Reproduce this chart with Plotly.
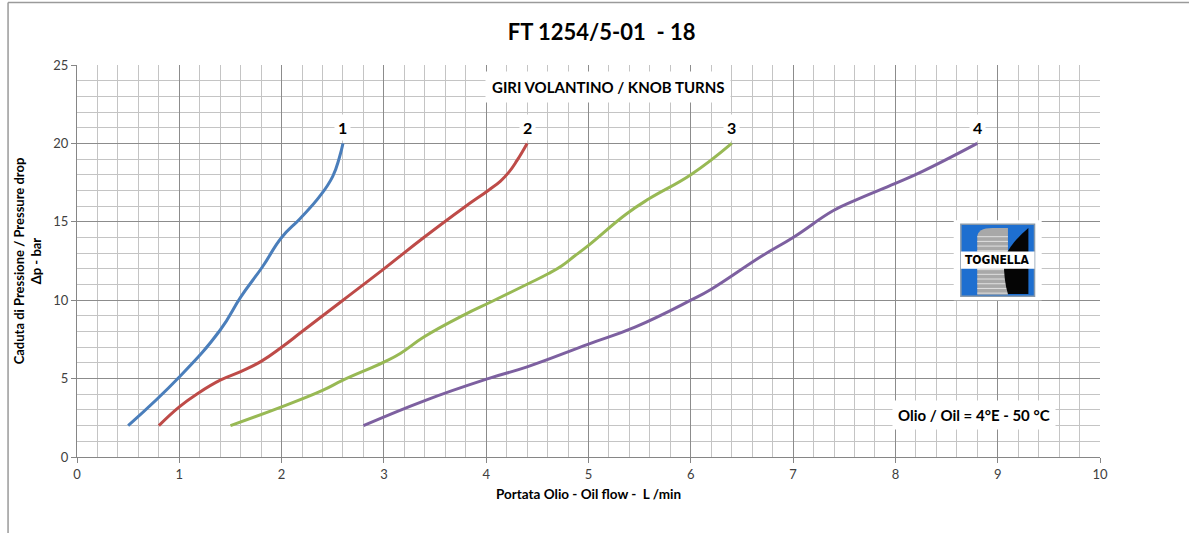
import plotly.graph_objects as go

# ---- data ----
curve_names = ["1", "2", "3", "4"]
colors = ["#4A7EBB", "#BE4B48", "#98B954", "#7D60A0"]

x1 = [0.50, 1.00, 1.40, 1.60, 1.81, 2.00, 2.18, 2.37, 2.50, 2.565, 2.60]
y1 = [2.0, 5.1, 8.1, 10.2, 12.1, 14.0, 15.2, 16.6, 17.9, 19.1, 20.0]

x2 = [0.80, 1.00, 1.18, 1.40, 1.60, 1.80, 2.00, 2.20, 2.60, 3.00, 3.39, 3.78, 4.02, 4.14, 4.22, 4.30, 4.40]
y2 = [2.0, 3.2, 4.05, 4.9, 5.45, 6.1, 7.0, 8.0, 10.0, 12.0, 14.0, 15.9, 17.0, 17.6, 18.15, 18.9, 20.0]

x3 = [1.50, 2.00, 2.40, 2.60, 3.00, 3.16, 3.39, 3.78, 4.05, 4.41, 4.61, 4.74, 4.86, 5.00, 5.37, 5.60, 6.00, 6.40]
y3 = [2.0, 3.2, 4.25, 4.9, 6.05, 6.6, 7.65, 9.05, 9.9, 11.05, 11.7, 12.2, 12.8, 13.5, 15.5, 16.5, 18.0, 20.0]

x4 = [2.80, 3.40, 4.02, 4.40, 5.00, 5.46, 6.00, 6.20, 6.69, 7.00, 7.39, 7.60, 8.00, 8.26, 8.80]
y4 = [2.0, 3.6, 5.0, 5.75, 7.2, 8.3, 10.0, 10.7, 12.8, 14.0, 15.7, 16.35, 17.45, 18.2, 20.0]

xs = [x1, x2, x3, x4]
ys = [y1, y2, y3, y4]

x_ticks = [0, 1, 2, 3, 4, 5, 6, 7, 8, 9, 10]
y_ticks = [0, 5, 10, 15, 20, 25]

title_text = "FT 1254/5-01  - 18"
x_title = "Portata Olio - Oil flow -  L /min"
y_title = "Caduta di Pressione / Pressure drop<br>Δp - bar"
turns_label = "GIRI VOLANTINO / KNOB TURNS"
oil_label = "Olio / Oil = 4°E - 50 °C"
logo_text = "TOGNELLA"

FONT = "Lato, 'Open Sans', sans-serif"

fig = go.Figure()
for name, x, y, c in zip(curve_names, xs, ys, colors):
    fig.add_trace(go.Scatter(x=x, y=y, mode="lines", name=name,
                             line=dict(color=c, width=3, shape="spline", smoothing=1.3),
                             showlegend=False, hoverinfo="x+y"))

annotations = []
# curve number labels
for name, x, y in zip(curve_names, xs, ys):
    annotations.append(dict(x=x[-1], y=y[-1] + 1.0, text="<b>" + name + "</b>", showarrow=False,
                            font=dict(family=FONT, size=16, color="#000000"),
                            bgcolor="white", borderpad=3, xanchor="center", yanchor="middle"))

annotations.append(dict(x=5.19, y=23.6, text="<b>" + turns_label + "</b>", showarrow=False,
                        font=dict(family=FONT, size=15, color="#000000"),
                        bgcolor="white", borderpad=6))
annotations.append(dict(x=8.77, y=2.65, text="<b>" + oil_label + "</b>", showarrow=False,
                        font=dict(family=FONT, size=15, color="#000000"),
                        bgcolor="white", borderpad=5))

shapes = []
# logo (drawn with shapes)
shapes.append(dict(type="rect", xref="x", yref="y", x0=8.57, x1=9.43, y0=10.0, y1=15.1,
                   fillcolor="white", line=dict(width=0), layer="above"))
shapes.append(dict(type="rect", xref="x", yref="y", x0=8.64, x1=9.36, y0=10.25, y1=14.85,
                   fillcolor="#1E6FD0", line=dict(color="#8899aa", width=1.5), layer="above"))
shapes.append(dict(type="path", xref="x", yref="y",
                   path="M 8.80 10.35 L 8.80 14.0 Q 8.80 14.6 8.95 14.6 L 9.10 14.6 L 9.10 10.35 Z",
                   fillcolor="#A8A8A8", line=dict(width=0), layer="above"))
for k in range(13):
    yy = 10.45 + k * 0.3
    shapes.append(dict(type="line", xref="x", yref="y", x0=8.80, x1=9.10, y0=yy, y1=yy,
                       line=dict(color="#E0E0E0", width=1), layer="above"))
shapes.append(dict(type="path", xref="x", yref="y",
                   path="M 9.10 10.4 L 9.30 10.4 L 9.30 14.6 Q 9.10 13.5 9.06 12.5 Q 9.06 11.2 9.10 10.4 Z",
                   fillcolor="#050505", line=dict(width=0), layer="above"))
shapes.append(dict(type="rect", xref="x", yref="y", x0=8.64, x1=9.36, y0=12.0, y1=13.1,
                   fillcolor="white", line=dict(width=0), layer="above"))
annotations.append(dict(x=9.0, y=12.55, text="<b>" + logo_text + "</b>", showarrow=False,
                        font=dict(family="'Liberation Sans Narrow', 'DejaVu Sans Condensed', Arial", size=12, color="#000000")))

# outer border (top and left)
shapes.append(dict(type="line", xref="paper", yref="paper", x0=-0.0674, x1=1.09, y0=1.1595, y1=1.1595,
                   line=dict(color="#9a9a9a", width=1.5)))
shapes.append(dict(type="line", xref="paper", yref="paper", x0=-0.0674, x1=-0.0674, y0=1.1595, y1=-0.2,
                   line=dict(color="#9a9a9a", width=1.5)))

fig.update_layout(
    width=1189, height=533,
    margin=dict(l=77, r=89, t=65, b=76),
    paper_bgcolor="white", plot_bgcolor="white",
    title=dict(text="<b>" + title_text + "</b>", x=0.506, xanchor="center", y=0.94, yanchor="middle",
               font=dict(family=FONT, size=22, color="#000000")),
    annotations=annotations, shapes=shapes,
    font=dict(family=FONT),
)

fig.update_xaxes(range=[0, 10], tickvals=x_ticks, ticktext=[str(v) for v in x_ticks],
                 showgrid=True, gridcolor="#8c8c8c", gridwidth=1.3,
                 minor=dict(dtick=0.2, showgrid=True, gridcolor="#c4c4c4", gridwidth=1.3,
                            ticks=""),
                 showline=True, linecolor="#868686", linewidth=1.3,
                 ticks="outside", ticklen=5, tickcolor="#868686",
                 tickfont=dict(family=FONT, size=13, color="#404040"),
                 zeroline=False, mirror=False,
                 title=dict(text="<b>" + x_title + "</b>", font=dict(family=FONT, size=13.5, color="#000000"),
                            standoff=8))
fig.update_yaxes(range=[0, 25], tickvals=y_ticks, ticktext=[str(v) for v in y_ticks],
                 showgrid=True, gridcolor="#8c8c8c", gridwidth=1.3,
                 minor=dict(dtick=1, showgrid=True, gridcolor="#c4c4c4", gridwidth=1.3, ticks=""),
                 showline=True, linecolor="#868686", linewidth=1.3,
                 ticks="outside", ticklen=5, tickcolor="#868686",
                 tickfont=dict(family=FONT, size=13, color="#404040"),
                 zeroline=False,
                 title=dict(text="<b>" + y_title + "</b>", font=dict(family=FONT, size=13, color="#000000"),
                            standoff=8))

fig.write_html("out.html", config={"displayModeBar": False},
               post_script="document.body.style.margin='0';")
